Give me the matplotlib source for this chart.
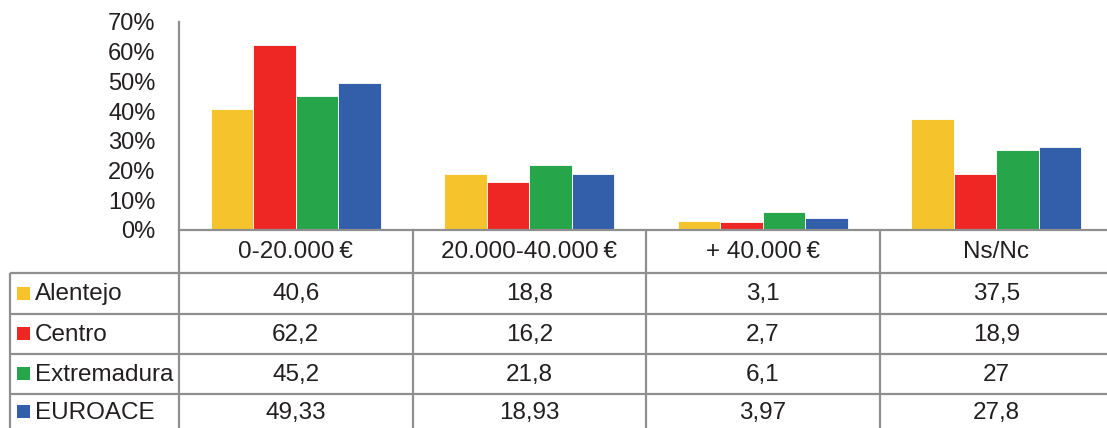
import matplotlib
matplotlib.use("Agg")
import matplotlib.pyplot as plt
from matplotlib.patches import Rectangle

plt.rcParams['font.family'] = ['Liberation Sans', 'DejaVu Sans']

categories = ["0-20.000\u2009€", "20.000-40.000\u2009€", "+ 40.000\u2009€", "Ns/Nc"]
series_names = ["Alentejo", "Centro", "Extremadura", "EUROACE"]
alentejo = [40.6, 18.8, 3.1, 37.5]
centro = [62.2, 16.2, 2.7, 18.9]
extremadura = [45.2, 21.8, 6.1, 27.0]
euroace = [49.33, 18.93, 3.97, 27.8]
value_labels = [["40,6", "18,8", "3,1", "37,5"],
                ["62,2", "16,2", "2,7", "18,9"],
                ["45,2", "21,8", "6,1", "27"],
                ["49,33", "18,93", "3,97", "27,8"]]
yticks = [0, 10, 20, 30, 40, 50, 60, 70]
ytick_labels = ["0%", "10%", "20%", "30%", "40%", "50%", "60%", "70%"]

colors = ["#F5C32C", "#EE2724", "#27A54A", "#325EAA"]
series = [alentejo, centro, extremadura, euroace]
line_c = "#8f8f8f"

W, H = 1107, 428
fig = plt.figure(figsize=(W / 100, H / 100), dpi=100)

# chart axes (pixel layout)
x0, x1 = 179, 1113
y_top, y_bot = 22, 230
ax = fig.add_axes([x0 / W, (H - y_bot) / H, (x1 - x0) / W, (y_bot - y_top) / H])
bw = 0.182
for i, (vals, c) in enumerate(zip(series, colors)):
    xs = [k + (i - 1.5) * bw for k in range(len(categories))]
    ax.bar(xs, vals, width=bw, color=c, edgecolor="white", linewidth=0.6)
ax.set_xlim(-0.5, len(categories) - 0.5)
ax.set_ylim(0, 70)
ax.set_yticks(yticks)
ax.set_yticklabels(ytick_labels, fontsize=17, color="#231f20")
ax.set_xticks([])
ax.tick_params(axis="y", length=0, pad=17)
for s in ["top", "right"]:
    ax.spines[s].set_visible(False)
for s in ["left", "bottom"]:
    ax.spines[s].set_color(line_c)
    ax.spines[s].set_linewidth(1.6)

# table axes in image pixel coordinates
tax = fig.add_axes([0, 0, 1114 / W, (H - y_bot) / H])
tax.set_xlim(0, 1114)
tax.set_ylim(H, y_bot)
tax.axis("off")

col_w = (x1 - x0) / len(categories)
col_edges = [x0 + k * col_w for k in range(len(categories) + 1)]
row_edges = [230, 273, 314, 354, 394, 434]
lw = 1.6
for yy in row_edges[1:-1]:
    tax.plot([10, 1114], [yy, yy], color=line_c, lw=lw, solid_capstyle="butt")
for xx in col_edges[1:]:
    tax.plot([xx, xx], [230, H], color=line_c, lw=lw, solid_capstyle="butt")
tax.plot([x0, x0], [230, H], color=line_c, lw=lw, solid_capstyle="butt")
tax.plot([10, 10], [273, H], color=line_c, lw=lw, solid_capstyle="butt")

txt_c = "#231f20"
fs = 17.5
for k, cat in enumerate(categories):
    cx = (col_edges[k] + col_edges[k + 1]) / 2
    tax.text(cx, (row_edges[0] + row_edges[1]) / 2 + 1, cat, ha="center", va="center",
             fontsize=fs, color=txt_c)
for r, name in enumerate(series_names):
    cy = (row_edges[r + 1] + row_edges[r + 2]) / 2
    if r == 3:
        cy = 412
    tax.add_patch(Rectangle((17, cy - 6.5), 13, 13, color=colors[r], lw=0))
    tax.text(35, cy + 1, name, ha="left", va="center", fontsize=fs, color=txt_c)
    for k in range(len(categories)):
        cx = (col_edges[k] + col_edges[k + 1]) / 2
        tax.text(cx, cy + 1, value_labels[r][k], ha="center", va="center",
                 fontsize=fs, color=txt_c)

fig.savefig("out.png", dpi=100)
